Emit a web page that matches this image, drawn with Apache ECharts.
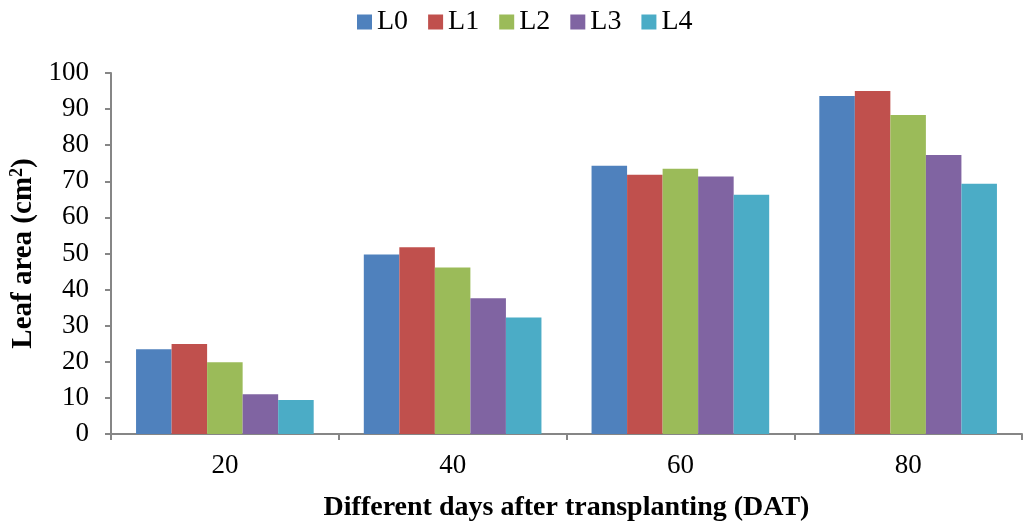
<!DOCTYPE html>
<html><head><meta charset="utf-8">
<script src="https://cdn.jsdelivr.net/npm/echarts@6/dist/echarts.min.js"></script>
<style>html,body{margin:0;padding:0;background:#fff}#c{width:1024px;height:527px}</style>
</head><body><div id="c"></div>
<script>
const categories = ['20', '40', '60', '80'];
const seriesNames = ['L0', 'L1', 'L2', 'L3', 'L4'];
const L0 = [23.5, 49.7, 74.3, 93.6];
const L1 = [24.9, 51.7, 71.8, 95.0];
const L2 = [19.9, 46.1, 73.5, 88.4];
const L3 = [11.0, 37.6, 71.3, 77.3];
const L4 = [9.4, 32.3, 66.3, 69.3];
const colors = ['#4F81BD', '#C0504D', '#9BBB59', '#8064A2', '#4BACC6'];
const values = [L0, L1, L2, L3, L4];
const font = 'Liberation Serif';
const chart = echarts.init(document.getElementById('c'));
chart.setOption({
  animation: false,
  color: colors,
  textStyle: { fontFamily: font },
  legend: {
    top: 3, left: 352, itemWidth: 15, itemHeight: 15, itemGap: 20,
    icon: 'rect',
    textStyle: { fontFamily: font, fontSize: 28, color: '#000' },
    data: seriesNames
  },
  grid: { left: 111, right: 2, top: 73, bottom: 92, containLabel: false },
  xAxis: {
    type: 'category', data: categories,
    name: 'Different days after transplanting (DAT)', nameLocation: 'middle', nameGap: 60,
    nameTextStyle: { fontFamily: font, fontSize: 28, fontWeight: 'bold', color: '#000' },
    axisLine: { lineStyle: { color: '#868686', width: 2 } },
    axisTick: { show: true, length: 6, lineStyle: { color: '#868686', width: 2 } },
    axisLabel: { fontFamily: font, fontSize: 27, color: '#000', margin: 18 }
  },
  yAxis: {
    type: 'value', min: 0, max: 100, interval: 10,
    name: 'Leaf area (cm{sup|2})', nameLocation: 'middle', nameGap: 73,
    nameTextStyle: { fontFamily: font, fontSize: 29, fontWeight: 'bold', color: '#000',
      rich: { sup: { fontFamily: font, fontSize: 18, fontWeight: 'bold', color: '#000', verticalAlign: 'top', padding: [0, 0, 10, 0] } } },
    axisLine: { show: true, lineStyle: { color: '#868686', width: 2 } },
    axisTick: { show: true, length: 6, lineStyle: { color: '#868686', width: 2 } },
    axisLabel: { fontFamily: font, fontSize: 27, color: '#000', margin: 22 },
    splitLine: { show: false }
  },
  series: seriesNames.map((n, i) => ({
    name: n, type: 'bar', data: values[i],
    barGap: '0%', barCategoryGap: '22%'
  }))
});
</script></body></html>
